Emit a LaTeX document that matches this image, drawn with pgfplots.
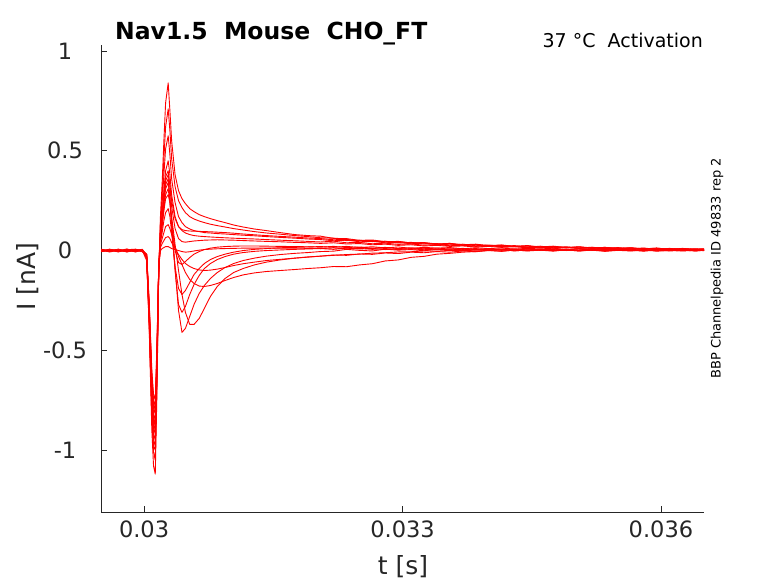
\documentclass[border=0pt]{standalone}
\usepackage{fontspec}
\setmainfont{DejaVu Sans}
\usepackage{pgfplots}
\usepackage{pgfplotstable}
\pgfplotsset{compat=1.18}
\definecolor{txt}{RGB}{38,38,38}
\definecolor{trace}{RGB}{255,0,0}

\pgfplotstableread{
t A B C D E F G H I J K L M N
0.02950 0.004 -0.005 0.003 -0.006 0.005 -0.002 0.006 -0.004 0.002 -0.003 0.004 -0.001 0.007 -0.005
0.02960 -0.006 0.006 -0.004 0.002 -0.003 0.005 -0.001 0.007 -0.005 0.004 -0.007 0.003 -0.002 0.001
0.02970 0.007 -0.002 0.005 -0.005 0.002 -0.007 0.004 -0.001 0.006 -0.006 0.001 -0.004 0.003 0.006
0.02980 -0.003 0.008 -0.007 0.004 -0.006 0.003 -0.005 0.002 -0.002 0.007 -0.004 0.005 -0.006 -0.003
0.02990 0.005 -0.006 0.002 0.007 0.004 -0.004 0.001 -0.006 0.003 -0.002 0.006 -0.007 0.004 0.003
0.02998 -0.002 0.003 0.006 -0.003 -0.001 0.006 -0.004 0.004 -0.006 0.001 -0.002 0.004 0.000 -0.005
0.03003 -0.03 -0.02 -0.04 -0.03 -0.02 -0.03 -0.02 -0.04 -0.02 -0.03 -0.02 -0.02 -0.05 -0.03
0.03006 -0.40 -0.38 -0.36 -0.34 -0.33 -0.32 -0.31 -0.30 -0.29 -0.28 -0.27 -0.26 -0.37 -0.31
0.03009 -0.90 -0.84 -0.79 -0.76 -0.74 -0.72 -0.70 -0.68 -0.66 -0.64 -0.62 -0.60 -0.82 -0.70
0.03011 -1.08 -1.01 -0.95 -0.92 -0.89 -0.87 -0.85 -0.82 -0.79 -0.77 -0.75 -0.72 -0.98 -0.84
0.03013 -1.12 -1.05 -0.98 -0.95 -0.92 -0.90 -0.88 -0.85 -0.82 -0.80 -0.78 -0.75 -1.00 -0.87
0.03015 -0.70 -0.65 -0.60 -0.58 -0.57 -0.56 -0.55 -0.53 -0.51 -0.50 -0.48 -0.46 -0.62 -0.54
0.03017 -0.12 -0.12 -0.10 -0.09 -0.10 -0.10 -0.10 -0.09 -0.09 -0.09 -0.08 -0.08 -0.11 -0.09
0.03019 0.17 0.14 0.12 0.09 0.08 0.07 0.05 0.06 0.04 0.03 0.015 0.0 0.08 0.07
0.03021 0.34 0.28 0.24 0.19 0.18 0.15 0.12 0.13 0.09 0.06 0.035 0.01 0.17 0.14
0.03023 0.55 0.46 0.38 0.30 0.29 0.25 0.20 0.21 0.15 0.09 0.05 0.015 0.27 0.23
0.03025 0.74 0.62 0.51 0.40 0.37 0.33 0.26 0.28 0.19 0.12 0.065 0.02 0.35 0.31
0.03028 0.84 0.71 0.575 0.45 0.40 0.36 0.28 0.31 0.21 0.13 0.07 0.02 0.38 0.34
0.03030 0.70 0.60 0.48 0.38 0.32 0.27 0.24 0.24 0.17 0.11 0.06 0.015 0.33 0.26
0.03032 0.55 0.46 0.36 0.28 0.22 0.14 0.17 0.12 0.09 0.08 0.04 0.01 0.25 0.15
0.03036 0.38 0.32 0.24 0.17 0.11 -0.09 0.03 -0.10 -0.08 0.02 0.01 0.005 0.16 0.0
0.03040 0.30 0.25 0.17 0.12 0.06 -0.30 -0.10 -0.27 -0.19 -0.03 -0.02 0.0 0.12 -0.06
0.03044 0.26 0.215 0.14 0.10 0.045 -0.41 -0.22 -0.31 -0.22 -0.07 -0.045 -0.005 0.105 -0.07
0.03048 0.235 0.19 0.12 0.088 0.042 -0.39 -0.31 -0.28 -0.20 -0.11 -0.065 -0.008 0.10 -0.055
0.03053 0.21 0.17 0.108 0.08 0.045 -0.33 -0.37 -0.22 -0.16 -0.145 -0.08 -0.006 0.098 -0.035
0.03058 0.195 0.158 0.10 0.075 0.048 -0.27 -0.37 -0.17 -0.12 -0.165 -0.09 -0.002 0.097 -0.018
0.03064 0.18 0.148 0.095 0.072 0.05 -0.215 -0.34 -0.125 -0.09 -0.178 -0.097 0.002 0.096 -0.005
0.03070 0.17 0.14 0.09 0.07 0.052 -0.175 -0.29 -0.09 -0.065 -0.18 -0.10 0.005 0.095 0.005
0.03077 0.16 0.132 0.088 0.068 0.053 -0.14 -0.23 -0.065 -0.045 -0.175 -0.098 0.007 0.094 0.012
0.03085 0.15 0.125 0.085 0.066 0.054 -0.11 -0.18 -0.045 -0.03 -0.165 -0.093 0.009 0.092 0.017
0.03094 0.14 0.118 0.083 0.064 0.053 -0.085 -0.14 -0.03 -0.018 -0.15 -0.085 0.01 0.09 0.02
0.03104 0.128 0.11 0.08 0.062 0.052 -0.065 -0.11 -0.018 -0.008 -0.135 -0.075 0.011 0.087 0.022
0.03115 0.118 0.103 0.077 0.06 0.05 -0.05 -0.09 -0.01 0.0 -0.122 -0.066 0.012 0.083 0.023
0.03128 0.108 0.095 0.074 0.058 0.048 -0.038 -0.072 -0.004 0.006 -0.112 -0.058 0.012 0.079 0.023
0.03142 0.10 0.088 0.07 0.055 0.046 -0.028 -0.058 0.0 0.01 -0.105 -0.05 0.013 0.075 0.022
0.03158 0.09 0.082 0.066 0.052 0.044 -0.02 -0.047 0.003 0.014 -0.10 -0.044 0.012 0.071 0.021
0.03175 0.08 0.075 0.062 0.049 0.041 -0.014 -0.038 0.006 0.016 -0.095 -0.038 0.012 0.067 0.02
0.03190 0.075 0.07 0.058 0.046 0.039 -0.01 -0.032 0.008 0.018 -0.09 -0.033 0.011 0.063 0.019
0.03205 0.072 0.064 0.055 0.043 0.036 -0.005 -0.028 0.010 0.020 -0.086 -0.028 0.010 0.060 0.017
0.03220 0.061 0.062 0.049 0.047 0.039 -0.003 -0.022 0.006 0.016 -0.080 -0.024 0.013 0.054 0.021
0.03235 0.060 0.050 0.052 0.039 0.033 0.006 -0.024 0.012 0.021 -0.081 -0.020 0.008 0.056 0.015
0.03250 0.051 0.052 0.044 0.041 0.035 0.001 -0.017 0.008 0.015 -0.072 -0.018 0.011 0.049 0.018
0.03265 0.053 0.045 0.046 0.034 0.029 -0.002 -0.019 0.011 0.019 -0.066 -0.013 0.006 0.050 0.012
0.03280 0.044 0.047 0.039 0.037 0.032 0.007 -0.012 0.005 0.013 -0.052 -0.011 0.010 0.043 0.016
0.03295 0.046 0.038 0.041 0.031 0.026 0.002 -0.015 0.010 0.018 -0.047 -0.007 0.005 0.045 0.010
0.03310 0.038 0.041 0.034 0.033 0.029 0.005 -0.008 0.007 0.011 -0.034 -0.006 0.009 0.038 0.014
0.03325 0.039 0.033 0.037 0.027 0.023 -0.001 -0.011 0.012 0.016 -0.029 -0.002 0.004 0.040 0.008
0.03340 0.031 0.035 0.030 0.030 0.026 0.006 -0.005 0.004 0.012 -0.018 -0.003 0.008 0.033 0.013
0.03355 0.036 0.028 0.033 0.024 0.021 0.003 -0.008 0.009 0.015 -0.014 0.001 0.003 0.036 0.007
0.03370 0.027 0.032 0.026 0.027 0.023 0.000 -0.002 0.006 0.009 -0.008 -0.002 0.007 0.029 0.011
0.03385 0.030 0.024 0.029 0.021 0.018 0.005 -0.006 0.010 0.014 -0.005 0.003 0.002 0.032 0.005
0.03400 0.022 0.028 0.023 0.024 0.021 0.002 0.001 0.003 0.010 0.000 0.000 0.006 0.025 0.010
0.03415 0.027 0.020 0.026 0.019 0.016 0.006 -0.004 0.008 0.013 -0.003 0.004 0.001 0.028 0.004
0.03430 0.019 0.025 0.020 0.021 0.019 -0.002 0.003 0.005 0.007 0.002 -0.001 0.005 0.021 0.009
0.03445 0.024 0.017 0.022 0.016 0.014 0.004 -0.002 0.009 0.011 -0.001 0.002 0.000 0.025 0.003
0.03460 0.014 0.022 0.017 0.019 0.017 0.001 0.002 0.002 0.008 0.004 0.005 0.004 0.018 0.008
0.03475 0.020 0.014 0.020 0.014 0.012 0.005 -0.003 0.007 0.012 0.000 0.000 -0.001 0.022 0.002
0.03490 0.013 0.019 0.015 0.017 0.015 0.000 0.004 0.004 0.005 0.003 0.003 0.003 0.015 0.007
0.03505 0.018 0.012 0.018 0.012 0.011 0.003 -0.001 0.008 0.009 -0.002 -0.002 0.001 0.019 0.001
0.03520 0.010 0.017 0.012 0.015 0.013 0.006 0.002 0.001 0.007 0.002 0.004 0.004 0.013 0.006
0.03535 0.016 0.009 0.015 0.010 0.009 -0.001 -0.004 0.006 0.010 0.005 0.001 -0.002 0.016 0.000
0.03550 0.008 0.015 0.011 0.013 0.012 0.004 0.001 0.003 0.004 0.000 0.003 0.002 0.011 0.005
0.03565 0.014 0.008 0.013 0.009 0.007 0.002 -0.002 0.007 0.008 0.003 -0.001 0.000 0.014 0.002
0.03580 0.006 0.013 0.008 0.011 0.010 -0.003 0.003 0.000 0.006 -0.002 0.002 0.003 0.009 0.004
0.03595 0.012 0.005 0.012 0.006 0.006 0.003 -0.003 0.005 0.009 0.004 0.004 -0.001 0.012 -0.001
0.03610 0.004 0.011 0.007 0.010 0.009 0.001 0.000 0.002 0.002 0.001 -0.002 0.002 0.007 0.004
0.03625 0.011 0.004 0.010 0.005 0.004 0.005 0.002 0.006 0.006 -0.001 0.001 -0.002 0.010 0.001
0.03640 0.005 0.009 0.005 0.008 0.007 -0.002 -0.002 -0.001 0.004 0.003 0.003 0.001 0.006 0.003
0.03650 0.009 0.006 0.008 0.004 0.005 0.002 0.001 0.003 0.005 0.000 -0.001 0.000 0.008 0.000
}\traces

\begin{document}
\begin{tikzpicture}
\useasboundingbox (0,0) rectangle (778pt,583pt);
\begin{axis}[
  at={(101pt,71pt)}, anchor=south west,
  width=603pt, height=467pt, scale only axis,
  xmin=0.0295, xmax=0.0365, ymin=-1.31, ymax=1.03,
  axis x line*=bottom, axis y line*=left,
  axis line style={-, color=txt, line width=0.6pt},
  tick align=inside, major tick length=6pt,
  tick style={color=txt, line width=0.6pt},
  xtick={0.03,0.033,0.036}, xticklabels={0.03,0.033,0.036},
  ytick={-1,-0.5,0,0.5,1}, yticklabels={-1,-0.5,0,0.5,1},
  scaled x ticks=false, scaled y ticks=false,
  xticklabel style={font=\fontsize{22.5}{24}\selectfont, text=txt, anchor=north, yshift=-5pt},
  yticklabel style={font=\fontsize{22.5}{24}\selectfont, text=txt, anchor=center, xshift=-36pt},
  clip=true,
]
\pgfplotsinvokeforeach{A,B,C,D,E,F,G,H,I,J,K,L,M,N}{
  \addplot[trace, line width=0.9pt, line join=round] table[x=t, y=#1] {\traces};
}
\end{axis}
\node[anchor=base west, inner sep=0pt, font=\bfseries\fontsize{23.5}{25}\selectfont, text=black] at (115pt,543pt) {Nav1.5\ \ Mouse\ \ CHO\_FT};
\node[anchor=base east, inner sep=0pt, font=\fontsize{19}{21}\selectfont, text=black] at (703pt,535pt) {37 °C\ \ Activation};
\node[rotate=90, anchor=center, inner sep=0pt, font=\fontsize{13}{15}\selectfont, text=black] at (717pt,314.5pt) {BBP Channelpedia ID 49833 rep 2};
\node[rotate=90, anchor=center, inner sep=0pt, font=\fontsize{25}{27}\selectfont, text=txt] at (27.5pt,306pt) {I [nA]};
\node[anchor=center, inner sep=0pt, font=\fontsize{25}{27}\selectfont, text=txt] at (403pt,16.5pt) {t [s]};
\end{tikzpicture}
\end{document}
